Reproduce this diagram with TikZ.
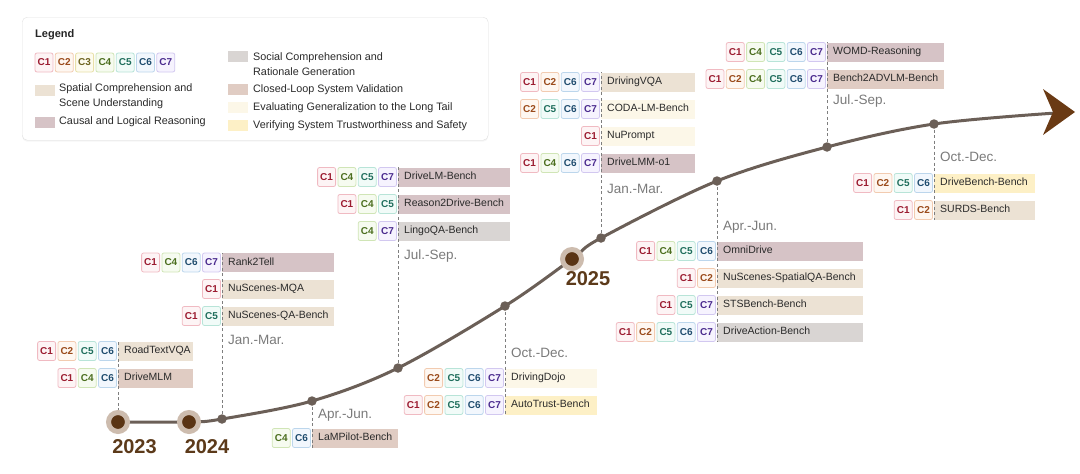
\documentclass[tikz,border=0pt]{standalone}
\usepackage{fontspec}
\setmainfont{Liberation Sans}
\usetikzlibrary{shadows,calc}
\definecolor{spatial}{HTML}{ECE2D4}
\definecolor{causal}{HTML}{D6C3C6}
\definecolor{social}{HTML}{D9D5D3}
\definecolor{closed}{HTML}{E0CCC3}
\definecolor{longtail}{HTML}{FCF7E8}
\definecolor{trust}{HTML}{FDF0C6}
\definecolor{tlc}{HTML}{6B5F57}
\definecolor{arrowc}{HTML}{6A3A14}
\definecolor{yearc}{HTML}{5A3414}
\definecolor{halo}{HTML}{CDBCAE}
\definecolor{yeartxt}{HTML}{5C3A1A}
\definecolor{datec}{HTML}{7A7A7A}
\definecolor{dashc}{HTML}{7E7E7E}
\definecolor{txt}{HTML}{2A2A2A}
\definecolor{c1t}{HTML}{9B1B30}\definecolor{c1b}{HTML}{F0BAC2}\definecolor{c1f}{HTML}{FDF4F5}
\definecolor{c2t}{HTML}{9A4A1A}\definecolor{c2b}{HTML}{F2CBB0}\definecolor{c2f}{HTML}{FEF7F1}
\definecolor{c3t}{HTML}{6E6420}\definecolor{c3b}{HTML}{E8E0A8}\definecolor{c3f}{HTML}{FDFBEF}
\definecolor{c4t}{HTML}{4B6E1E}\definecolor{c4b}{HTML}{D0E5B6}\definecolor{c4f}{HTML}{F6FBF0}
\definecolor{c5t}{HTML}{1F6E5C}\definecolor{c5b}{HTML}{B8E4D8}\definecolor{c5f}{HTML}{F1FBF8}
\definecolor{c6t}{HTML}{1F4C6E}\definecolor{c6b}{HTML}{BCD6EC}\definecolor{c6f}{HTML}{F2F7FD}
\definecolor{c7t}{HTML}{4A2A8E}\definecolor{c7b}{HTML}{D2C8F0}\definecolor{c7f}{HTML}{F6F3FE}
\newcommand\barfont{\fontsize{10.5}{12}\selectfont}
\newcommand\badgefont{\bfseries\fontsize{10}{11}\selectfont}
\newcommand\legfont{\fontsize{10.8}{15}\selectfont}
\tikzset{
  badge/.style={draw, rounded corners=2pt, minimum width=18pt, minimum height=19pt, inner sep=0pt, font=\badgefont, line width=0.8pt},
  c1/.style={draw=c1b, fill=c1f, text=c1t},
  c2/.style={draw=c2b, fill=c2f, text=c2t},
  c3/.style={draw=c3b, fill=c3f, text=c3t},
  c4/.style={draw=c4b, fill=c4f, text=c4t},
  c5/.style={draw=c5b, fill=c5f, text=c5t},
  c6/.style={draw=c6b, fill=c6f, text=c6t},
  c7/.style={draw=c7b, fill=c7f, text=c7t},
  bar/.style={anchor=west, minimum height=19pt, inner xsep=6pt, inner ysep=0pt, font=\barfont, text=txt, text height=7.5pt, text depth=2pt},
  datelbl/.style={anchor=west, font=\fontsize{13.5}{15}\selectfont, text=datec, inner sep=0pt},
  yearlbl/.style={font=\bfseries\fontsize{20}{22}\selectfont, text=yeartxt, inner sep=0pt},
  dot/.style={circle, fill=tlc, minimum size=9.5pt, inner sep=0pt},
  yeardot/.style={circle, fill=yearc, minimum size=19pt, inner sep=0pt, draw=halo, line width=5pt},
  tl/.style={draw=tlc, line width=3pt},
  vdash/.style={draw=dashc, line width=1pt, dash pattern=on 3pt off 2.5pt},
  swatch/.style={minimum width=20pt, minimum height=11pt, inner sep=0pt},
  legtxt/.style={anchor=west, font=\legfont, text=txt, align=left, inner sep=0pt},
}
\newcommand\benchrow[7]{%
  \pgfmathsetmacro\bw{#4-12}%
  \node[bar, fill=#5] (#1) at (#2,#3) {\makebox[\bw pt][l]{#6}};
  \foreach \c [count=\n] in {#7} {\xdef\nbadge{\n}}
  \foreach \c [count=\i] in {#7} {
    \node[badge, c\c] (#1-c\c) at ({#2-10.5-(\nbadge-\i)*20.3}, #3) {C\c};
  }
}
\begin{document}
\begin{tikzpicture}[x=1pt, y=-1pt]
\useasboundingbox (0,0) rectangle (1080,474);
% legend
\node[draw=black!12, fill=white, rounded corners=5pt, minimum width=466pt, minimum height=123pt, anchor=north west, inner sep=0pt, drop shadow={opacity=0.08, shadow xshift=0pt, shadow yshift=-1.5pt}] (legend) at (22,17) {};
\node[anchor=west, font=\bfseries\fontsize{11}{13}\selectfont, text=black!85, inner sep=0pt] (legtitle) at (35,35) {Legend};
\foreach \c in {1,...,7} {
  \node[badge, c\c] (leg-c\c) at ({44+(\c-1)*20.3}, 62.5) {C\c};
}
\node[swatch, fill=spatial] (sw-spatial) at (44.5,90) {};
\node[legtxt] (lt-spatial) at (59,96.5) {Spatial Comprehension and\\Scene Understanding};
\node[swatch, fill=causal] (sw-causal) at (44.5,122) {};
\node[legtxt] (lt-causal) at (59,122) {Causal and Logical Reasoning};
\node[swatch, fill=social] (sw-social) at (238,56) {};
\node[legtxt] (lt-social) at (253,64) {Social Comprehension and\\Rationale Generation};
\node[swatch, fill=closed] (sw-closed) at (238,89.5) {};
\node[legtxt] (lt-closed) at (253,89.5) {Closed-Loop System Validation};
\node[swatch, fill=longtail] (sw-longtail) at (238,107.5) {};
\node[legtxt] (lt-longtail) at (253,107.5) {Evaluating Generalization to the Long Tail};
\node[swatch, fill=trust] (sw-trust) at (238,125.5) {};
\node[legtxt] (lt-trust) at (253,125.5) {Verifying System Trustworthiness and Safety};
% timeline points
\coordinate (p2023) at (118,422);
\coordinate (p2024) at (189,422);
\coordinate (p1) at (222,419);
\coordinate (p2) at (312,401);
\coordinate (p3) at (398,368);
\coordinate (p4) at (505,306);
\coordinate (p2025) at (572,259);
\coordinate (p5) at (601,238);
\coordinate (p6) at (717,181);
\coordinate (p7) at (827,147);
\coordinate (p8) at (934,124);
\coordinate (pend) at (1056,113);
\coordinate (tip) at (1075,112);
% bench rows
\benchrow{roadtext}{118}{351}{75}{spatial}{RoadTextVQA}{1,2,5,6}
\benchrow{drivemlm}{118}{378}{75}{closed}{DriveMLM}{1,4,6}
\benchrow{rank2tell}{222}{262.5}{112}{causal}{Rank2Tell}{1,4,6,7}
\benchrow{nsmqa}{222}{289}{112}{spatial}{NuScenes-MQA}{1}
\benchrow{nsqa}{222}{316}{112}{spatial}{NuScenes-QA-Bench}{1,5}
\benchrow{lampilot}{312}{438}{86}{closed}{LaMPilot-Bench}{4,6}
\benchrow{drivelm}{398}{177}{112}{causal}{DriveLM-Bench}{1,4,5,7}
\benchrow{reason2drive}{398}{204}{112}{causal}{Reason2Drive-Bench}{1,4,5}
\benchrow{lingoqa}{398}{231}{112}{social}{LingoQA-Bench}{4,7}
\benchrow{drivingdojo}{505}{378}{92}{longtail}{DrivingDojo}{2,5,6,7}
\benchrow{autotrust}{505}{405}{92}{trust}{AutoTrust-Bench}{1,2,5,6,7}
\benchrow{drivingvqa}{601}{82}{94}{spatial}{DrivingVQA}{1,2,6,7}
\benchrow{codalm}{601}{109}{94}{longtail}{CODA-LM-Bench}{2,5,6,7}
\benchrow{nuprompt}{601}{136}{94}{longtail}{NuPrompt}{1}
\benchrow{drivelmm}{601}{163}{94}{causal}{DriveLMM-o1}{1,4,6,7}
\benchrow{omnidrive}{717}{251}{146}{causal}{OmniDrive}{1,4,5,6}
\benchrow{nsspatial}{717}{278}{146}{spatial}{NuScenes-SpatialQA-Bench}{1,2}
\benchrow{stsbench}{717}{305}{146}{spatial}{STSBench-Bench}{1,5,7}
\benchrow{driveaction}{717}{332}{146}{social}{DriveAction-Bench}{1,2,5,6,7}
\benchrow{womd}{827}{52}{117}{causal}{WOMD-Reasoning}{1,4,5,6,7}
\benchrow{bench2advlm}{827}{79}{117}{closed}{Bench2ADVLM-Bench}{1,2,4,5,6,7}
\benchrow{drivebench}{934}{183}{101}{trust}{DriveBench-Bench}{1,2,5,6}
\benchrow{surds}{934}{210}{101}{spatial}{SURDS-Bench}{1,2}
% dashed lines
\draw[vdash] (p2023) -- (p2023 |- roadtext.north);
\draw[vdash] (p1) -- (p1 |- rank2tell.north);
\draw[vdash] (p2) -- (p2 |- lampilot.south);
\draw[vdash] (p3) -- (p3 |- drivelm.north);
\draw[vdash] (p4) -- (p4 |- autotrust.south);
\draw[vdash] (p5) -- (p5 |- drivingvqa.north);
\draw[vdash] (p6) -- (p6 |- driveaction.south);
\draw[vdash] (p7) -- (p7 |- womd.north);
\draw[vdash] (p8) -- (p8 |- surds.south);
% timeline
\draw[tl] plot[smooth, tension=0.55] coordinates {(p2023) (p2024) (p1) (p2) (p3) (p4) (p2025) (p5) (p6) (p7) (p8) (pend)};
\fill[arrowc] (tip) -- ($(tip)+(-32,-23)$) -- ($(tip)+(-22,0)$) -- ($(tip)+(-32,23)$) -- cycle;
% dots
\node[yeardot] (y2023) at (p2023) {};
\node[yeardot] (y2024) at (p2024) {};
\node[yeardot] (y2025) at (p2025) {};
\foreach \k in {1,...,8} { \node[dot] (d\k) at (p\k) {}; }
% year labels
\node[yearlbl] (t2023) at (134.5,447) {2023};
\node[yearlbl] (t2024) at (207,447) {2024};
\node[yearlbl] (t2025) at (588,279) {2025};
% date labels
\node[datelbl] (l1) at (228,340) {Jan.-Mar.};
\node[datelbl] (l2) at (318,415) {Apr.-Jun.};
\node[datelbl] (l3) at (404,256) {Jul.-Sep.};
\node[datelbl] (l4) at (511,353) {Oct.-Dec.};
\node[datelbl] (l5) at (607,189) {Jan.-Mar.};
\node[datelbl] (l6) at (723,227) {Apr.-Jun.};
\node[datelbl] (l7) at (833,101) {Jul.-Sep.};
\node[datelbl] (l8) at (940,157) {Oct.-Dec.};
\end{tikzpicture}
\end{document}
